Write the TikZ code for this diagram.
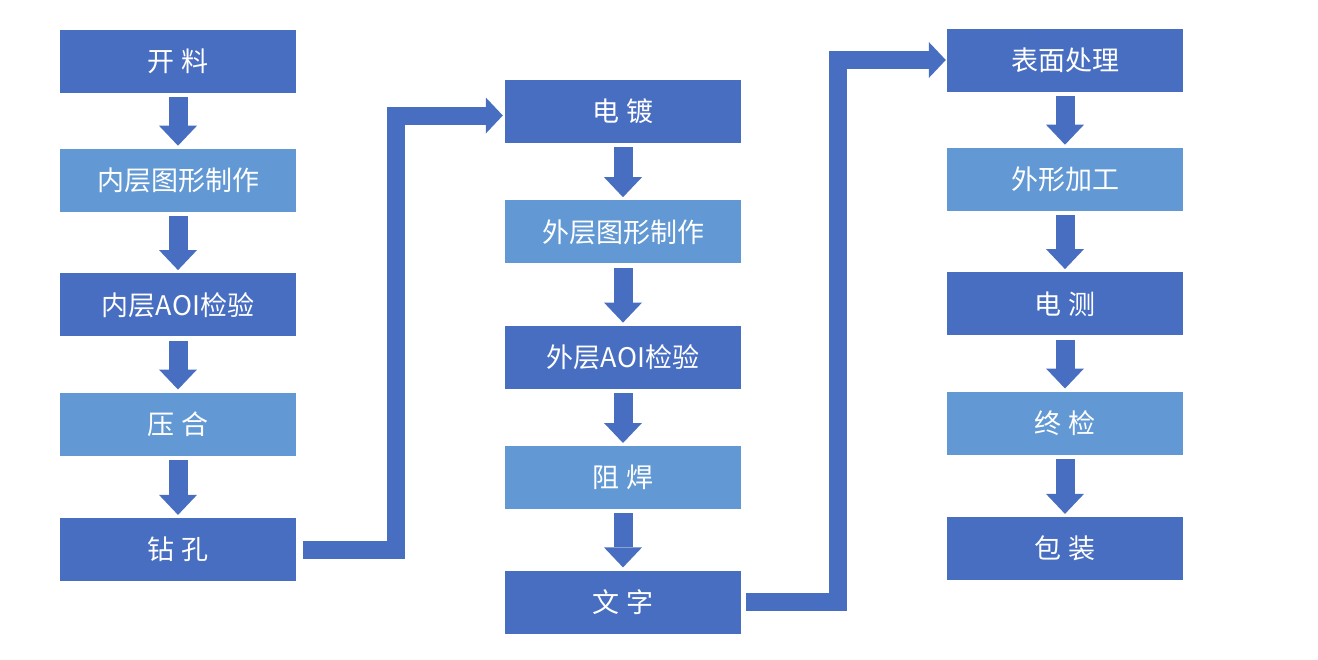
\documentclass[tikz,border=0pt]{standalone}
\usepackage{fontspec}
\setmainfont{Noto Sans CJK SC}
\usetikzlibrary{positioning}
\usetikzlibrary{arrows.meta}
\definecolor{darkstep}{RGB}{72,110,194}
\definecolor{lightstep}{RGB}{98,153,212}
\tikzset{
  stepdark/.style={fill=darkstep, text=white, minimum width=236pt, minimum height=63pt,
    inner sep=0pt, font=\fontsize{27}{32}\selectfont},
  steplight/.style={stepdark, fill=lightstep},
  flow/.style={darkstep, line width=19pt, -{Triangle[width=38pt,length=20pt,line width=0pt]}},
  elbow/.style={darkstep, line width=18pt, line join=miter,
    -{Triangle[width=36pt,length=17pt,line width=0pt]}},
}

\begin{document}
\begin{tikzpicture}[x=1pt, y=-1pt, node distance=56pt]
  \useasboundingbox (0,0) rectangle (1318,659);
  % left column
  \node[stepdark] (kl) at (178,61) {开\kern.25em 料};
  \node[steplight, below=of kl] (nctx) {内层图形制作};
  \node[stepdark, below=61pt of nctx] (ncaoi) {内层AOI检验};
  \node[steplight, below=of ncaoi] (yh) {压\kern.25em 合};
  \node[stepdark, below=62pt of yh] (zk) {钻\kern.25em 孔};
  % middle column
  \node[stepdark] (dd) at (623,111.5) {电\kern.25em 镀};
  \node[steplight, below=57pt of dd] (wctx) {外层图形制作};
  \node[stepdark, below=62pt of wctx] (wcaoi) {外层AOI检验};
  \node[steplight, below=57pt of wcaoi] (zh) {阻\kern.25em 焊};
  \node[stepdark, below=61pt of zh] (wz) {文\kern.25em 字};
  % right column
  \node[stepdark] (bmcl) at (1065,60) {表面处理};
  \node[steplight, below=of bmcl] (wxjg) {外形加工};
  \node[stepdark, below=61pt of wxjg] (dc) {电\kern.25em 测};
  \node[steplight, below=of dc] (zj) {终\kern.25em 检};
  \node[stepdark, below=62pt of zj] (bz) {包\kern.25em 装};

  \foreach \a/\b in {kl/nctx, nctx/ncaoi, ncaoi/yh, yh/zk,
                     dd/wctx, wctx/wcaoi, wcaoi/zh, zh/wz,
                     bmcl/wxjg, wxjg/dc, dc/zj, zj/bz}
    \draw[flow] ([yshift=-4pt]\a.south) -- ([yshift=3pt]\b.north);

  % column to column
  \coordinate (bend1) at (396,116);
  \coordinate (bend2) at (838,60);
  \draw[elbow] ([xshift=7pt]zk.east) -| (bend1) |- ([xshift=-2pt,yshift=-4pt]dd.west);
  \draw[elbow] ([xshift=5pt]wz.east) -| (bend2) |- ([xshift=-1pt]bmcl.west);
\end{tikzpicture}
\end{document}
